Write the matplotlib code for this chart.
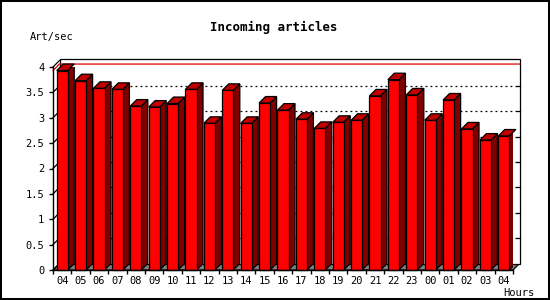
import numpy as np
import matplotlib.pyplot as plt
from matplotlib.patches import Polygon, Rectangle

plt.rcParams['font.family'] = 'DejaVu Sans Mono'

hours = ["04", "05", "06", "07", "08", "09", "10", "11", "12", "13", "14", "15", "16",
         "17", "18", "19", "20", "21", "22", "23", "00", "01", "02", "03", "04"]
rate = [3.93, 3.73, 3.58, 3.56, 3.23, 3.21, 3.28, 3.56, 2.89, 3.54, 2.89, 3.29, 3.15,
        2.97, 2.79, 2.91, 2.95, 3.43, 3.75, 3.45, 2.95, 3.35, 2.78, 2.56, 2.64]
yticks = [0, 0.5, 1, 1.5, 2, 2.5, 3, 3.5, 4]

fig = plt.figure(figsize=(5.5, 3), dpi=100)
# front plane of the pseudo-3d box, placed in pixels
ax = fig.add_axes([53/550, 30/300, 460/550, 203/300])
ax.set_xlim(-0.5, 24.5)
ax.set_ylim(0, 4)

dx = 6.5 / 18.4   # depth in data units
dy = 6.5 / 50.75
x0, x1 = -0.5, len(hours) - 0.5
lw = 0.9

# floor and back wall
ax.add_patch(Polygon([(x0, 0), (x1, 0), (x1 + dx, dy), (x0 + dx, dy)],
                     closed=True, fc="#808080", ec="black", lw=lw, clip_on=False, zorder=1))
ax.add_patch(Rectangle((x0 + dx, dy), x1 - x0, 4.03, fc="white", ec="black",
                       lw=lw, clip_on=False, zorder=1))
for v in yticks[1:-1]:
    ax.plot([x0 + dx, x1 + dx], [v + dy, v + dy], color="black", lw=lw,
            ls=(0, (1.5, 2.5)), clip_on=False, zorder=1.5)
    ax.plot([x1 + dx - 0.15, x1 + dx], [v + dy, v + dy], color="black", lw=lw,
            clip_on=False, zorder=1.5)
for v in yticks:
    ax.plot([x0, x0 + dx], [v, v + dy], color="black", lw=lw, clip_on=False, zorder=1.5)

# max line
vmax = max(rate)
ax.plot([x0, x0 + dx, x1 + dx], [vmax, vmax + dy, vmax + dy], color="#e00000",
        lw=lw, clip_on=False, zorder=1.6)

# bars
w = 0.3
for i, v in enumerate(rate):
    z = 3 + i * 0.01
    ax.add_patch(Polygon([(i + w, 0), (i + w + dx, dy), (i + w + dx, v + dy), (i + w, v)],
                         closed=True, fc="#800000", ec="black", lw=lw, zorder=z))
    ax.add_patch(Polygon([(i - w, v), (i + w, v), (i + w + dx, v + dy), (i - w + dx, v + dy)],
                         closed=True, fc="#c00000", ec="black", lw=lw, zorder=z, clip_on=False))
    ax.add_patch(Rectangle((i - w, 0), 2 * w, v, fc="#ff0000", ec="black", lw=lw,
                           zorder=z, clip_on=False))

for s in ["top", "right"]:
    ax.spines[s].set_visible(False)
for s in ["left", "bottom"]:
    ax.spines[s].set_linewidth(1.0)
    ax.spines[s].set_zorder(5)

ax.set_yticks(yticks)
ax.set_yticklabels([f"{v:g}" for v in yticks])
ax.tick_params(axis="y", direction="out", length=2.9, width=1.0, pad=3.4, labelsize=7.5)
ax.set_xticks(np.arange(x0, x1 + 0.01, 1))
ax.set_xticklabels([])
ax.set_xticks(range(len(hours)), minor=True)
ax.set_xticklabels(hours, minor=True)
ax.tick_params(axis="x", which="major", direction="out", length=2.9, width=1.0)
ax.tick_params(axis="x", which="minor", length=0, pad=4.2, labelsize=7.5)

fig.text(274/550, 1 - 27/300, "Incoming articles", ha="center", va="center",
         fontsize=9, fontweight="bold")
fig.text(30/550, 1 - 37/300, "Art/sec", ha="left", va="center", fontsize=7.5)
fig.text(534/550, 1 - 293/300, "Hours", ha="right", va="center", fontsize=7.5)

fig.patches.append(Rectangle((0, 0), 1, 1, transform=fig.transFigure, fill=False,
                             ec="black", lw=2.9))

fig.savefig("out.png", dpi=100)
